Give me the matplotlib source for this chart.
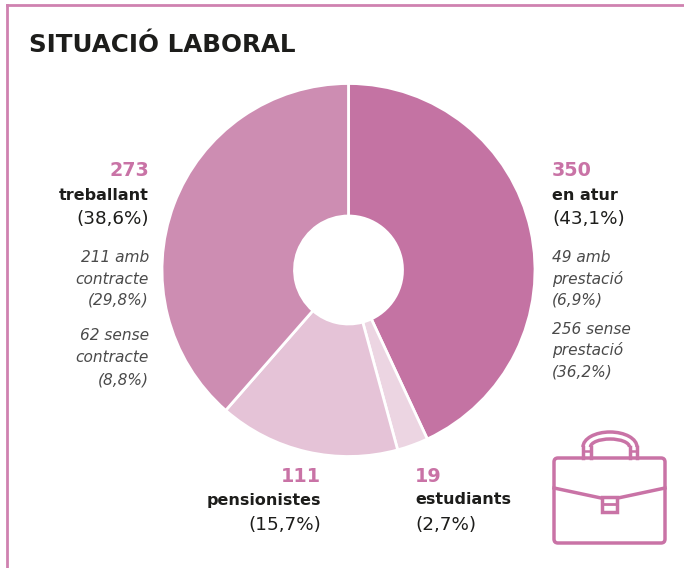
import matplotlib
matplotlib.use('Agg')
import matplotlib.pyplot as plt
from matplotlib.patches import FancyBboxPatch, Arc, Rectangle
from matplotlib.lines import Line2D

plt.rcParams['font.family'] = ['DejaVu Sans']

# Values as printed next to the slices
slice_labels = ['en atur', 'estudiants', 'pensionistes', 'treballant']
slice_values = [350, 19, 111, 273]
slice_pcts = [43.1, 2.7, 15.7, 38.6]
slice_colors = ['#c473a3', '#ecd5e2', '#e5c3d7', '#cd8db2']

PINK = '#c973a6'
DARK = '#1d1d1b'
GREY = '#4a4a4a'

fig = plt.figure(figsize=(6.84, 5.68), dpi=100)
bg = fig.add_axes([0, 0, 1, 1])
bg.set_xlim(0, 684)
bg.set_ylim(568, 0)
bg.axis('off')

# frame, open at the bottom and right
bg.add_line(Line2D([7, 7], [568, 5], color='#cf82b0', lw=2))
bg.add_line(Line2D([7, 684], [5, 5], color='#cf82b0', lw=2))

bg.text(29, 45, 'SITUACIÓ LABORAL', fontsize=17.7, fontweight='bold', color=DARK, va='center')

# pie
cx, cy, r = 348.5, 270, 186.5
ax = fig.add_axes([(cx - r) / 684, 1 - (cy + r) / 568, 2 * r / 684, 2 * r / 568])
ax.pie(slice_pcts, colors=slice_colors, startangle=90, counterclock=False, radius=1,
       wedgeprops=dict(width=1 - 54 / 186.5, edgecolor='white', linewidth=2))
ax.set_xlim(-1, 1)
ax.set_ylim(-1, 1)

def txt(x, y, s, ha='left', **kw):
    kw.setdefault('color', DARK)
    bg.text(x, y, s, ha=ha, va='center', **kw)

def block(x, y, i, ha):
    txt(x, y + 1, str(slice_values[i]), ha, color=PINK, fontweight='bold', fontsize=13.8)
    txt(x, y + 25, slice_labels[i], ha, fontweight='bold', fontsize=11.5)
    txt(x, y + 49.5, '(%s%%)' % str(slice_pcts[i]).replace('.', ','), ha, fontsize=13.2)

block(552, 170, 0, 'left')
block(415, 475, 1, 'left')
block(321, 475, 2, 'right')
block(149, 170, 3, 'right')

detail_right = ['49 amb', 'prestació', '(6,9%)', '256 sense', 'prestació', '(36,2%)']
detail_right_y = [257, 279, 300, 329, 350, 372]
for s, y in zip(detail_right, detail_right_y):
    txt(552, y, s, 'left', style='italic', color=GREY, fontsize=11.1)

detail_left = ['211 amb', 'contracte', '(29,8%)', '62 sense', 'contracte', '(8,8%)']
detail_left_y = [257, 279, 300, 336, 358, 380]
for s, y in zip(detail_left, detail_left_y):
    txt(149, y, s, 'right', style='italic', color=GREY, fontsize=11.1)

# briefcase icon
lw = 2.5
bg.add_patch(FancyBboxPatch((554, 458), 111, 85, boxstyle='round,pad=0,rounding_size=4',
                            fc='none', ec=PINK, lw=lw))
bg.add_line(Line2D([554, 601], [488, 498], color=PINK, lw=lw))
bg.add_line(Line2D([618, 665], [498, 488], color=PINK, lw=lw))
bg.add_patch(Rectangle((602, 497), 15, 15, fc='white', ec=PINK, lw=lw))
bg.add_line(Line2D([602, 617], [504, 504], color=PINK, lw=2))
# handle
bg.add_patch(Arc((610, 447), 54, 30, theta1=180, theta2=360, ec=PINK, lw=lw))
bg.add_patch(Arc((610, 447), 39, 16, theta1=180, theta2=360, ec=PINK, lw=lw))
for hx in [583, 637, 590.5, 629.5]:
    bg.add_line(Line2D([hx, hx], [447, 458], color=PINK, lw=lw))
bg.add_line(Line2D([583, 590.5], [451, 451], color=PINK, lw=1.8))
bg.add_line(Line2D([629.5, 637], [451, 451], color=PINK, lw=1.8))

fig.savefig('out.png', dpi=100)
